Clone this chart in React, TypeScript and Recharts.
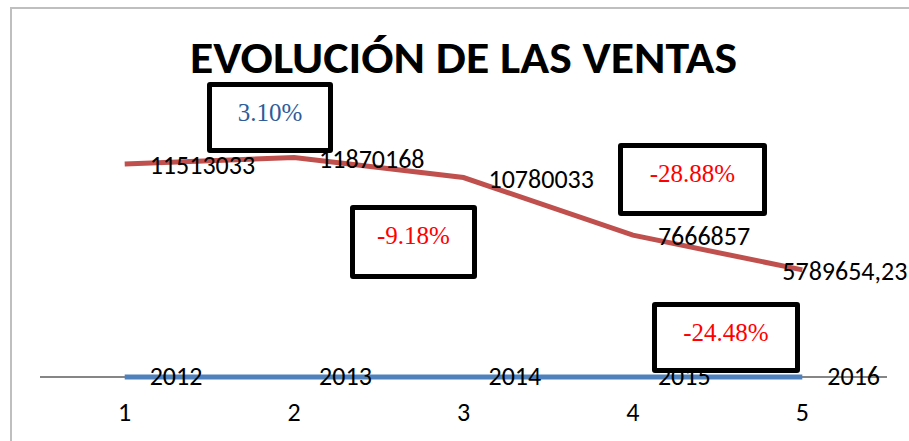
import React from 'react'
import { LineChart, Line, XAxis, YAxis, LabelList, CartesianGrid } from 'recharts'

// datos de la hoja
const periodos = [1, 2, 3, 4, 5]
const ventas = [11513033, 11870168, 10780033, 7666857, 5789654.23]
const anios = [2012, 2013, 2014, 2015, 2016]
const variaciones = ['3.10%', '-9.18%', '-28.88%', '-24.48%']
const variacionColor = ['#2E5C9A', '#FF0000', '#FF0000', '#FF0000']

const data = periodos.map((p, i) => ({ x: p, ventas: ventas[i], anio: anios[i] }))

// cuadros de texto (posición a mano, como en la hoja)
const cajas = [
  { left: 207, top: 82, width: 126, height: 71 },
  { left: 350, top: 205, width: 127, height: 74 },
  { left: 618, top: 143, width: 149, height: 73 },
  { left: 652, top: 302, width: 148, height: 71 },
]

const FONT = 'Carlito, Lato, "Open Sans", sans-serif'

const ValueLabel = ({ x, y, value, index, last }: any) => {
  const isLast = index === last
  const txt = String(value).replace('.', ',')
  return (
    <text
      x={isLast ? x - 20 : x + 25}
      y={y + 4}
      dominantBaseline="middle"
      fill="#000"
      fontSize={26}
      fontFamily={FONT}
    >
      {txt}
    </text>
  )
}

const YearLabel = ({ x, y, value }: any) => (
  <text x={x + 25} y={y + 2} dominantBaseline="middle" fill="#000" fontSize={26} fontFamily={FONT}>
    {value}
  </text>
)

export default function App() {
  return (
    <div style={{ position: 'absolute', left: 0, top: 0, width: 909, height: 441, background: '#fff', overflow: 'hidden' }}>
      <div style={{ position: 'absolute', left: 10, top: 7, width: 920, height: 450, borderLeft: '2px solid #BFBFBF', borderTop: '2px solid #BFBFBF' }} />
      <svg width={909} height={100} style={{ position: 'absolute', left: 0, top: 0 }}>
        <text
          x={190}
          y={73}
          textLength={547}
          lengthAdjust="spacingAndGlyphs"
          fontFamily={FONT}
          fontWeight={700}
          fontSize={45}
          fill="#000"
        >
          EVOLUCIÓN DE LAS VENTAS
        </text>
      </svg>
      <div style={{ position: 'absolute', left: 0, top: 0 }}>
        <LineChart width={909} height={441} data={data} margin={{ top: 118, right: 22, left: 40, bottom: 0 }}>
          <CartesianGrid vertical={false} horizontalValues={[0]} stroke="#868686" strokeWidth={2} />
          <XAxis
            dataKey="x"
            type="number"
            domain={[0.5, 5.5]}
            ticks={periodos}
            height={64}
            tickLine={false}
            tickMargin={20}
            axisLine={false}
            tick={{ fill: '#000', fontSize: 26, fontFamily: FONT }}
          />
          <YAxis hide domain={[0, 14000000]} />
          <Line
            dataKey="anio"
            stroke="#4F81BD"
            strokeWidth={5}
            dot={false}
            isAnimationActive={false}
          >
            <LabelList dataKey="anio" content={<YearLabel />} />
          </Line>
          <Line
            dataKey="ventas"
            stroke="#C0504D"
            strokeWidth={5}
            dot={false}
            isAnimationActive={false}
          >
            <LabelList dataKey="ventas" content={<ValueLabel last={ventas.length - 1} />} />
          </Line>
        </LineChart>
      </div>
      {cajas.map((c, i) => (
        <div
          key={i}
          style={{
            position: 'absolute',
            left: c.left,
            top: c.top,
            width: c.width,
            height: c.height,
            boxSizing: 'border-box',
            border: '5px solid #000',
            borderRadius: 3,
            background: '#fff',
            textAlign: 'center',
            paddingTop: 12,
            fontFamily: '"Liberation Serif", "Times New Roman", serif',
            fontSize: 25,
            lineHeight: '28px',
            color: variacionColor[i],
          }}
        >
          {variaciones[i]}
        </div>
      ))}
    </div>
  )
}
